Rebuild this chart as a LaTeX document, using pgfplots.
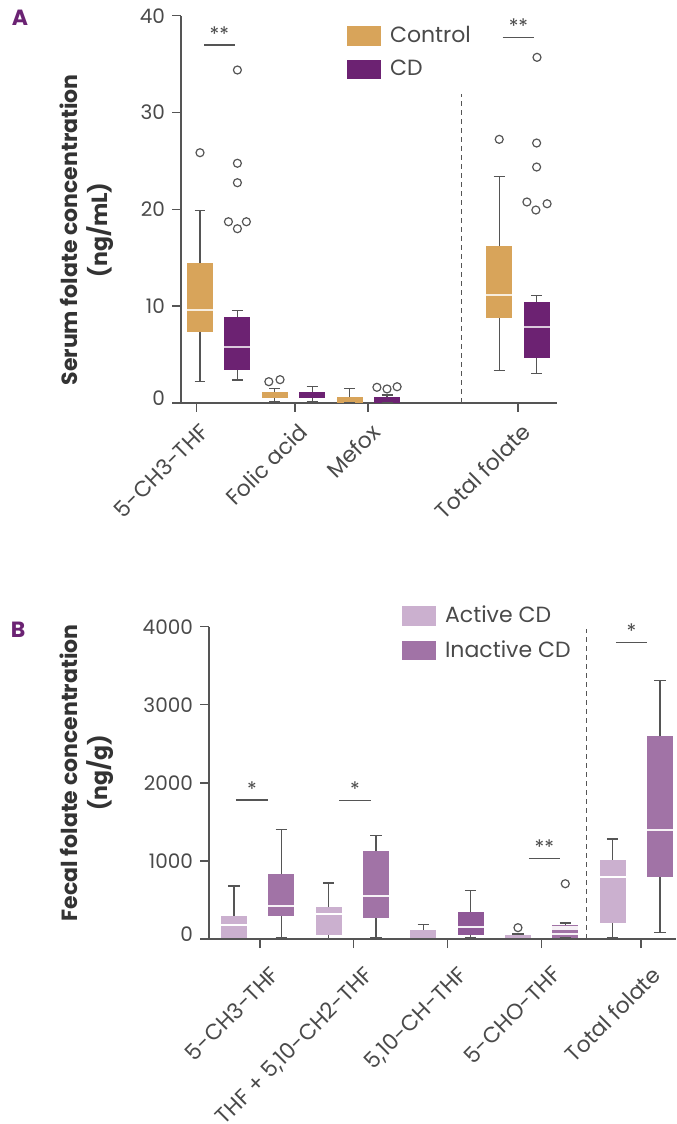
\documentclass[border=0pt]{standalone}
\usepackage{fontspec}
\setmainfont{Poppins}
\usepackage{pgfplots}
\pgfplotsset{compat=1.18}
\definecolor{ctrl}{HTML}{D8A45A}
\definecolor{cdp}{HTML}{6C2272}
\definecolor{act}{HTML}{CBB0CF}
\definecolor{inact}{HTML}{A173A6}
\definecolor{inactd}{HTML}{8F5897}
\definecolor{axg}{HTML}{555555}
\definecolor{txt}{HTML}{4A4A4A}
\definecolor{lab}{HTML}{333333}
\definecolor{letter}{HTML}{6B2373}
\tikzset{
  star/.style={font=\fontsize{10}{12}\selectfont, text=txt, anchor=base, yshift=2pt},
  sigl/.style={axg, line width=0.7pt},
  dsh/.style={axg, line width=0.65pt, dash pattern=on 2.5pt off 2pt},
}
\pgfplotsset{
  myax/.style={
    scale only axis,
    axis x line*=bottom, axis y line*=left,
    axis line style={axg, line width=0.7pt},
    tick style={axg, line width=0.7pt},
    tick align=outside,
    major tick length=4.5pt,
    every tick label/.append style={text=txt},
    yticklabel style={font=\fontsize{10}{12}\selectfont},
    xticklabel style={font=\fontsize{11}{13}\selectfont, rotate=45, anchor=north east, inner sep=1pt},
    /pgf/number format/assume math mode=true,
    clip=false,
    legend cell align=left,
    legend style={draw=none, fill=none, inner sep=0pt, font=\fontsize{11}{13}\selectfont, text=txt,
      nodes={inner sep=1.5pt}, row sep=4.5pt, /tikz/every odd column/.append style={column sep=3pt}},
    ylabel style={align=center, font=\bfseries\fontsize{11}{15}\selectfont, text=lab, anchor=center},
  },
  outl/.style={only marks, mark=o, mark size=2pt, mark options={draw=axg, line width=0.6pt}},
}
% box: #1 pos, #2 half width, #3 lw, #4 lq, #5 med, #6 uq, #7 uw, #8 fill, #9 median colour
\newcommand\bx[9]{%
  \pgfmathsetmacro\bxl{#1-#2}\pgfmathsetmacro\bxr{#1+#2}%
  \pgfmathsetmacro\bcl{#1-\capw}\pgfmathsetmacro\bcr{#1+\capw}%
  \edef\doit{%
    \noexpand\addplot[draw=none, fill=#8, mark=none] coordinates {(\bxl,#4) (\bxr,#4) (\bxr,#6) (\bxl,#6)} -- cycle;
    \noexpand\addplot[draw=axg, line width=0.6pt, mark=none] coordinates {(#1,#3) (#1,#4)};
    \noexpand\addplot[draw=axg, line width=0.6pt, mark=none] coordinates {(#1,#6) (#1,#7)};
    \noexpand\addplot[draw=axg, line width=0.6pt, mark=none] coordinates {(\bcl,#3) (\bcr,#3)};
    \noexpand\addplot[draw=axg, line width=0.6pt, mark=none] coordinates {(\bcl,#7) (\bcr,#7)};
    \noexpand\addplot[draw=#9, line width=0.9pt, mark=none] coordinates {(\bxl,#5) (\bxr,#5)};
  }\doit
}
\begin{document}
\begin{tikzpicture}
\path[use as bounding box] (0,0) rectangle (338pt,562pt);
\node[font=\bfseries\fontsize{11}{13}\selectfont, text=letter] at (10pt,553pt) {A};
\node[font=\bfseries\fontsize{11}{13}\selectfont, text=letter] at (9pt,247pt) {B};
% ---------------- Panel A ----------------
\begin{axis}[myax,
  at={(90.5pt,360.5pt)}, anchor=south west,
  width=188pt, height=193.65pt,
  xmin=-0.508, xmax=9.545, ymin=0, ymax=40,
  ytick={0,10,20,30,40},
  yticklabels={\raisebox{5pt}{0},10,20,30,40},
  xtick={-0.1,2.54,4.49,8.5},
  xticklabels={5-CH3-THF,Folic acid,Mefox,Total folate},
  xticklabel style={yshift=-3pt, xshift=-1.5pt},
  ylabel={Serum folate concentration\\(ng/mL)},
  ylabel style={at={(axis description cs:-0.25,0.447)}},
  legend style={at={(0.441,0.982)}, anchor=north west},
]
\def\capw{0.147}
\addlegendimage{legend image code/.code={\fill[ctrl] (0pt,-4.6pt) rectangle (16.5pt,4.6pt);}}
\addlegendentry{Control}
\addlegendimage{legend image code/.code={\fill[cdp] (0pt,-4.6pt) rectangle (16.5pt,4.6pt);}}
\addlegendentry{CD}
\bx{0}{0.3475}{2.20}{7.36}{9.64}{14.43}{19.86}{ctrl}{ctrl!20!white}
\bx{1}{0.3475}{2.38}{3.38}{5.81}{8.85}{9.53}{cdp}{cdp!25!white}
\bx{2}{0.3475}{0.13}{0.55}{0.8}{1.14}{1.48}{ctrl}{ctrl}
\bx{3}{0.3475}{0.13}{0.55}{0.8}{1.14}{1.68}{cdp}{cdp}
\bx{4}{0.3475}{0}{0}{0.3}{0.62}{1.48}{ctrl}{ctrl}
\bx{5}{0.3475}{0}{0}{0.3}{0.62}{0.83}{cdp}{cdp}
\bx{8}{0.3475}{3.34}{8.81}{11.19}{16.21}{23.37}{ctrl}{ctrl!20!white}
\bx{9}{0.3475}{3.03}{4.68}{7.85}{10.43}{11.12}{cdp}{cdp!25!white}
\addplot[outl] coordinates {(0,25.85) (1,34.39) (1,24.76) (1,22.75) (0.76,18.72) (1,18.0) (1.24,18.72)
  (1.84,2.2) (2.14,2.41) (4.73,1.62) (5.0,1.45) (5.27,1.68)
  (8,27.23) (9.01,35.7) (9,26.85) (9,24.37) (8.74,20.76) (8.98,19.93) (9.28,20.58)};
\draw[dsh] (axis cs:7,0) -- (axis cs:7,31.9);
\draw[sigl] (axis cs:0.107,36.97) -- (axis cs:0.936,36.97);
\node[star] at (axis cs:0.52,36.97) {**};
\draw[sigl] (axis cs:8.09,37.73) -- (axis cs:8.94,37.73);
\node[star] at (axis cs:8.515,37.73) {**};
\end{axis}
% ---------------- Panel B ----------------
\begin{axis}[myax,
  at={(104.5pt,92.5pt)}, anchor=south west,
  width=233.5pt, height=156.15pt,
  xmin=-0.53, xmax=9.34, ymin=0, ymax=4000,
  ytick={0,1000,2000,3000,4000},
  yticklabels={\raisebox{5pt}{0},1000,2000,3000,4000},
  scaled y ticks=false,
  xtick={0.55,2.53,4.51,6.5,8.6},
  xticklabels={5-CH3-THF,{THF + 5,10-CH2-THF},{5,10-CH-THF},5-CHO-THF,Total folate},
  xticklabel style={yshift=-8pt, xshift=-1.5pt},
  ylabel={Fecal folate concentration\\(ng/g)},
  ylabel style={at={(axis description cs:-0.261,0.532)}},
  legend style={at={(0.413,1.077)}, anchor=north west},
]
\def\capw{0.12}
\addlegendimage{legend image code/.code={\fill[act] (0pt,-4.6pt) rectangle (16.5pt,4.6pt);}}
\addlegendentry{Active CD}
\addlegendimage{legend image code/.code={\fill[inact] (0pt,-4.6pt) rectangle (16.5pt,4.6pt);}}
\addlegendentry{Inactive CD}
\bx{0}{0.275}{8}{15}{183}{295}{679}{act}{white}
\bx{1}{0.275}{17}{295}{427}{829}{1405}{inact}{white!90!inact}
\bx{2}{0.275}{6}{55}{316}{406}{717}{act}{white}
\bx{3}{0.275}{17}{273}{555}{1127}{1323}{inact}{white!90!inact}
\bx{4}{0.275}{5}{13}{60}{115}{183}{act}{act}
\bx{5}{0.275}{17}{55}{158}{346}{619}{inactd}{white!90!inactd}
\bx{6}{0.275}{5}{13}{30}{51}{64}{act}{act}
\bx{7}{0.275}{13}{17}{124}{175}{205}{inact}{white!90!inact}
\bx{8}{0.275}{17}{209}{798}{1012}{1281}{act}{white}
\bx{9}{0.275}{86}{798}{1392}{2600}{3308}{inact}{white!90!inact}
\addplot[outl] coordinates {(6,145) (7,708)};
\draw[white!90!inact, line width=0.9pt] (axis cs:6.725,157) -- (axis cs:7.275,157);
\draw[white!90!inact, line width=0.9pt] (axis cs:6.725,60) -- (axis cs:7.275,60);
\draw[dsh] (axis cs:7.45,0) -- (axis cs:7.45,3967);
\draw[sigl] (axis cs:0.04,1780) -- (axis cs:0.72,1780);
\node[star] at (axis cs:0.38,1780) {*};
\draw[sigl] (axis cs:2.22,1771) -- (axis cs:2.89,1771);
\node[star] at (axis cs:2.555,1771) {*};
\draw[sigl] (axis cs:6.23,1028) -- (axis cs:6.89,1028);
\node[star] at (axis cs:6.56,1028) {**};
\draw[sigl] (axis cs:8.07,3795) -- (axis cs:8.73,3795);
\node[star] at (axis cs:8.4,3795) {*};
\end{axis}
\end{tikzpicture}
\end{document}
